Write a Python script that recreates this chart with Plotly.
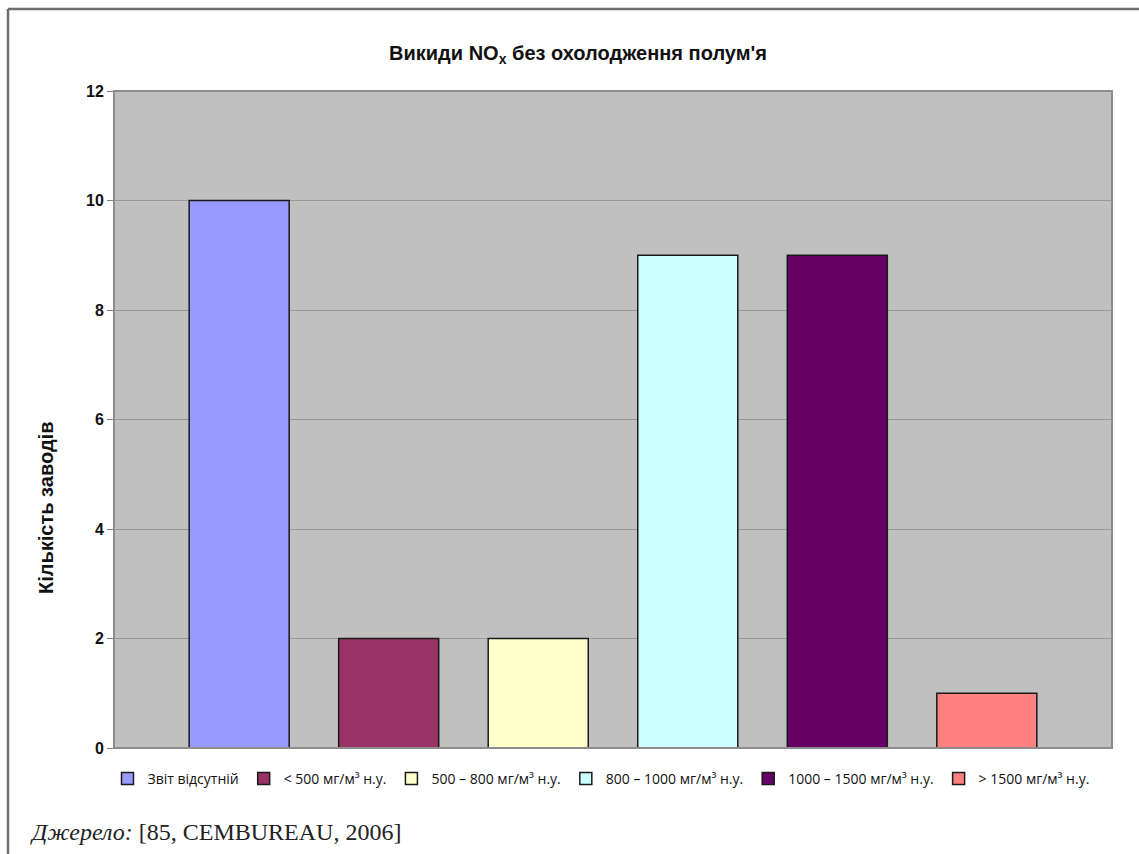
import plotly.graph_objects as go

# Number of cement plants by NOx emission class (no flame cooling)
categories = [
    "Звіт відсутній",
    "< 500 мг/м³ н.у.",
    "500 – 800 мг/м³ н.у.",
    "800 – 1000 мг/м³ н.у.",
    "1000 – 1500 мг/м³ н.у.",
    "> 1500 мг/м³ н.у.",
]
plant_counts = [10, 2, 2, 9, 9, 1]
bar_colors = ["#9999FF", "#993366", "#FFFFCC", "#CCFFFF", "#660066", "#FF8080"]
y_ticks = [0, 2, 4, 6, 8, 10, 12]

fig = go.Figure()
for name, value, color in zip(categories, plant_counts, bar_colors):
    fig.add_trace(go.Bar(
        x=["NOx"], y=[value], name=name,
        marker=dict(color=color, line=dict(color="#1a1a1a", width=1.5)),
        hoverinfo="name+y",
    ))

W, H = 1139, 854
L, R, T, B = 114, 27, 91, 106
pw, ph = W - L - R, H - T - B

def px_x(p):
    return (p - L) / pw

def px_y(p):
    return (H - B - p) / ph

fig.update_layout(
    width=W, height=H,
    margin=dict(l=L, r=R, t=T, b=B),
    paper_bgcolor="white",
    plot_bgcolor="#C0C0C0",
    barmode="group",
    bargap=0.101,
    bargroupgap=0.331,
    title=dict(
        text="<b>Викиди NO<sub>x</sub> без охолодження полум'я</b>",
        x=578 / W, xref="container", xanchor="center",
        y=1 - 53 / H, yref="container", yanchor="middle",
        font=dict(family="Liberation Sans, Arial", size=20, color="#111"),
    ),
    font=dict(family="Liberation Sans, Arial", color="#111"),
    showlegend=True,
    legend=dict(
        orientation="h",
        x=px_x(601), xanchor="center",
        y=px_y(779), yanchor="middle",
        font=dict(family="Open Sans, Noto Sans", size=14, color="#111"),
        itemwidth=30,
        tracegroupgap=0,
        traceorder="normal",
    ),
    xaxis=dict(
        showticklabels=False, ticks="", showgrid=False, zeroline=False,
        showline=False, fixedrange=True,
    ),
    yaxis=dict(
        range=[0, 12], tickvals=y_ticks,
        tickfont=dict(family="Liberation Sans, Arial", size=16, color="#111",
                      weight="bold"),
        ticks="outside", ticklen=6, tickcolor="#808080",
        showgrid=True, gridcolor="#999999", gridwidth=1,
        zeroline=False, showline=False,
    ),
    shapes=[
        # plot area border
        dict(type="rect", xref="paper", yref="paper", x0=0, x1=1, y0=0, y1=1,
             line=dict(color="#8c8c8c", width=2), layer="above"),
        # outer frame: top and left edges
        dict(type="line", xref="paper", yref="paper",
             x0=px_x(8), x1=px_x(W + 5), y0=px_y(9), y1=px_y(9),
             line=dict(color="#6e6e6e", width=2.5)),
        dict(type="line", xref="paper", yref="paper",
             x0=px_x(8), x1=px_x(8), y0=px_y(9), y1=px_y(H + 5),
             line=dict(color="#6e6e6e", width=2.5)),
    ],
    annotations=[
        # y-axis title
        dict(
            text="<b>Кількість заводів</b>",
            xref="paper", yref="paper", x=px_x(46), y=px_y(508),
            xanchor="center", yanchor="middle", textangle=-90, showarrow=False,
            font=dict(family="Liberation Sans, Arial", size=20, color="#111"),
        ),
        # source note
        dict(
            text="<i>Джерело:</i> [85, CEMBUREAU, 2006]",
            xref="paper", yref="paper", x=px_x(28), y=px_y(832),
            xanchor="left", yanchor="middle", showarrow=False,
            font=dict(family="Liberation Serif, Times New Roman", size=24, color="#222"),
        ),
    ],
)

fig.write_html("out.html")
